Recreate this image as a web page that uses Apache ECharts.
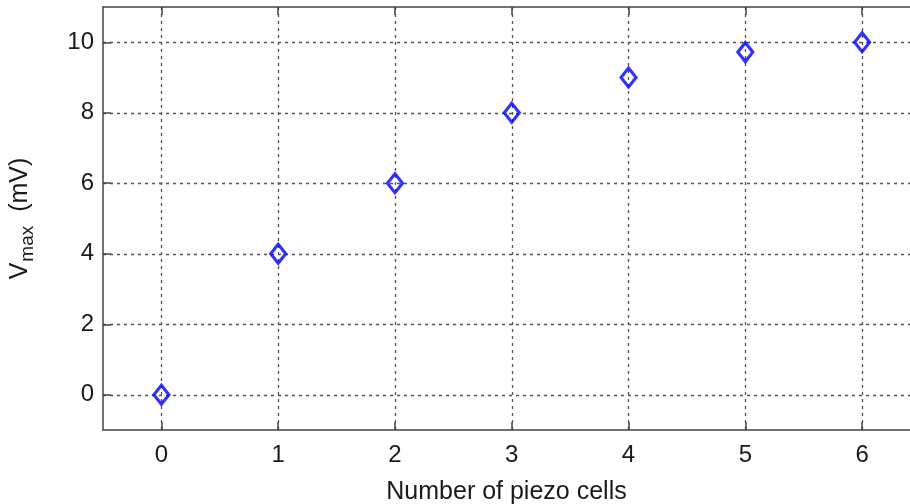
<!DOCTYPE html>
<html><head><meta charset="utf-8">
<script src="https://cdn.jsdelivr.net/npm/echarts@6/dist/echarts.min.js"></script>
<style>html,body{margin:0;padding:0;background:#fff}#c{width:910px;height:504px}</style>
</head><body><div id="c"></div>
<script>
const cells = [0, 1, 2, 3, 4, 5, 6];
const vmax = [0, 4, 6, 8, 9, 9.72, 10];
const xTicks = [0, 1, 2, 3, 4, 5, 6];
const yTicks = [0, 2, 4, 6, 8, 10];

const chart = echarts.init(document.getElementById('c'));
const font = 'Liberation Sans, Arial, sans-serif';
const axisCol = '#444';
const txtCol = '#1a1a1a';
const gridStyle = {color: '#555', type: [3, 4], width: 1.3};
chart.setOption({
  animation: false,
  grid: {left: 103, top: 7, right: 0, bottom: 74, show: false, containLabel: false, outerBoundsMode: 'none'},
  xAxis: [{
    type: 'value', min: -0.5, max: 6.41,
    name: 'Number of piezo cells', nameLocation: 'middle', nameGap: 50, nameTextStyle: {fontFamily: font, fontSize: 25, color: txtCol},
    axisLine: {show: true, onZero: false, lineStyle: {color: axisCol, width: 1.5}},
    axisTick: {show: true, inside: true, length: 8, lineStyle: {color: axisCol, width: 1.5}, customValues: xTicks},
    axisLabel: {fontFamily: font, fontSize: 24, color: txtCol, margin: 13, customValues: xTicks, formatter: v => String(v)},
    splitLine: {show: true, lineStyle: gridStyle}
  }, {
    type: 'value', min: -0.5, max: 6.41, position: 'top',
    axisLine: {show: true, onZero: false, lineStyle: {color: axisCol, width: 1.5}},
    axisTick: {show: true, inside: true, length: 8, lineStyle: {color: axisCol, width: 1.5}, customValues: xTicks},
    axisLabel: {show: false}, splitLine: {show: false}
  }],
  yAxis: [{
    type: 'value', min: -1, max: 11,
    name: '{v|V}{s|max}{v|  (mV)}', nameLocation: 'middle', nameGap: 66, nameRotate: 90,
    nameTextStyle: {fontFamily: font, fontSize: 25, color: txtCol,
      rich: {v: {fontFamily: font, fontSize: 25, color: txtCol},
             s: {fontFamily: font, fontSize: 19, color: txtCol, padding: [14, 0, 0, 1]}}},
    axisLine: {show: true, onZero: false, lineStyle: {color: axisCol, width: 1.5}},
    axisTick: {show: true, inside: true, length: 8, lineStyle: {color: axisCol, width: 1.5}, customValues: yTicks},
    axisLabel: {fontFamily: font, fontSize: 24, color: txtCol, margin: 9, customValues: yTicks},
    splitLine: {show: true, lineStyle: gridStyle}
  }],
  series: [{
    type: 'scatter',
    data: cells.map((c, i) => [c, vmax[i]]),
    symbol: 'diamond', symbolSize: [15, 19],
    itemStyle: {color: 'rgba(0,0,0,0)', borderColor: '#0000ff', borderWidth: 3.2}
  }]
});
</script></body></html>
